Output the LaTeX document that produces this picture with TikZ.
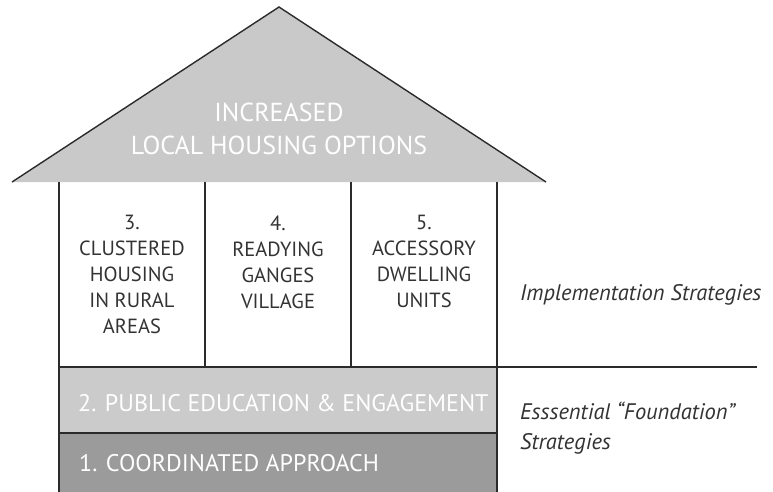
\documentclass[tikz,border=0pt]{standalone}
\usepackage{fontspec}
\setmainfont{PT Sans}
\definecolor{roofgray}{HTML}{C9C9C9}
\definecolor{lightband}{HTML}{CBCBCB}
\definecolor{darkband}{HTML}{9B9B9B}
\definecolor{ink}{HTML}{2B2B2B}
\definecolor{txt}{HTML}{333333}
\begin{document}
\begin{tikzpicture}[x=1pt,y=-1pt,
  edge/.style={draw=ink,line width=1.4pt},
  rooftext/.style={text=white,align=center,font=\fontsize{26}{33}\selectfont},
  coltext/.style={text=txt,align=center,font=\fontsize{20.5}{26}\selectfont,anchor=north},
  bandtext/.style={text=white,anchor=west,inner sep=0pt,font=\fontsize{24}{26}\selectfont},
  sidetext/.style={text=txt,anchor=west,align=left,inner sep=0pt,font=\itshape\fontsize{22.5}{30}\selectfont}]
\useasboundingbox (0,0) rectangle (773,492);

% corner points of the house
\coordinate (eaveL) at (12,182);
\coordinate (apex) at (279,7);
\coordinate (eaveR) at (546,182);
\coordinate (c0t) at (59,182);
\coordinate (c1t) at (205,182);
\coordinate (c2t) at (351,182);
\coordinate (c3t) at (497,182);
\coordinate (c0b) at (59,367);
\coordinate (c1b) at (205,367);
\coordinate (c2b) at (351,367);
\coordinate (c3b) at (497,367);
\coordinate (lineEnd) at (757,367);
\coordinate (midL) at (59,433);
\coordinate (midR) at (497,433);
\coordinate (baseL) at (59,492);
\coordinate (baseR) at (497,492);

% roof
\fill[roofgray] (eaveL) -- (apex) -- (eaveR) -- cycle;
\draw[edge,line join=miter] (eaveL) -- (apex) -- (eaveR);

% foundation bands
\fill[lightband] (c0b) rectangle (midR);
\fill[darkband] (midL) rectangle (baseR);

% pillars and dividing lines
\draw[edge] (c0t) -- (baseL);
\draw[edge] (c1t) -- (c1b);
\draw[edge] (c2t) -- (c2b);
\draw[edge] (c3t) -- (baseR);
\draw[edge] (c0b) -- (lineEnd);
\draw[edge] (midL) -- (midR);

% labels
\node[rooftext] (goal) at (279,129) {INCREASED\\LOCAL HOUSING OPTIONS};
\node[coltext] (s3) at (132,212) {3.\\CLUSTERED\\HOUSING\\IN RURAL\\AREAS};
\node[coltext] (s4) at (278,212) {4.\\READYING\\GANGES\\VILLAGE};
\node[coltext] (s5) at (424,212) {5.\\ACCESSORY\\DWELLING\\UNITS};
\node[bandtext] (s2) at (78,403) {2. PUBLIC EDUCATION \& ENGAGEMENT};
\node[bandtext] (s1) at (79,463) {1. COORDINATED APPROACH};
\node[sidetext] (impl) at (520,295) {Implementation Strategies};
\node[sidetext] (found) at (520,428) {Esssential “Foundation”\\Strategies};
\end{tikzpicture}
\end{document}
